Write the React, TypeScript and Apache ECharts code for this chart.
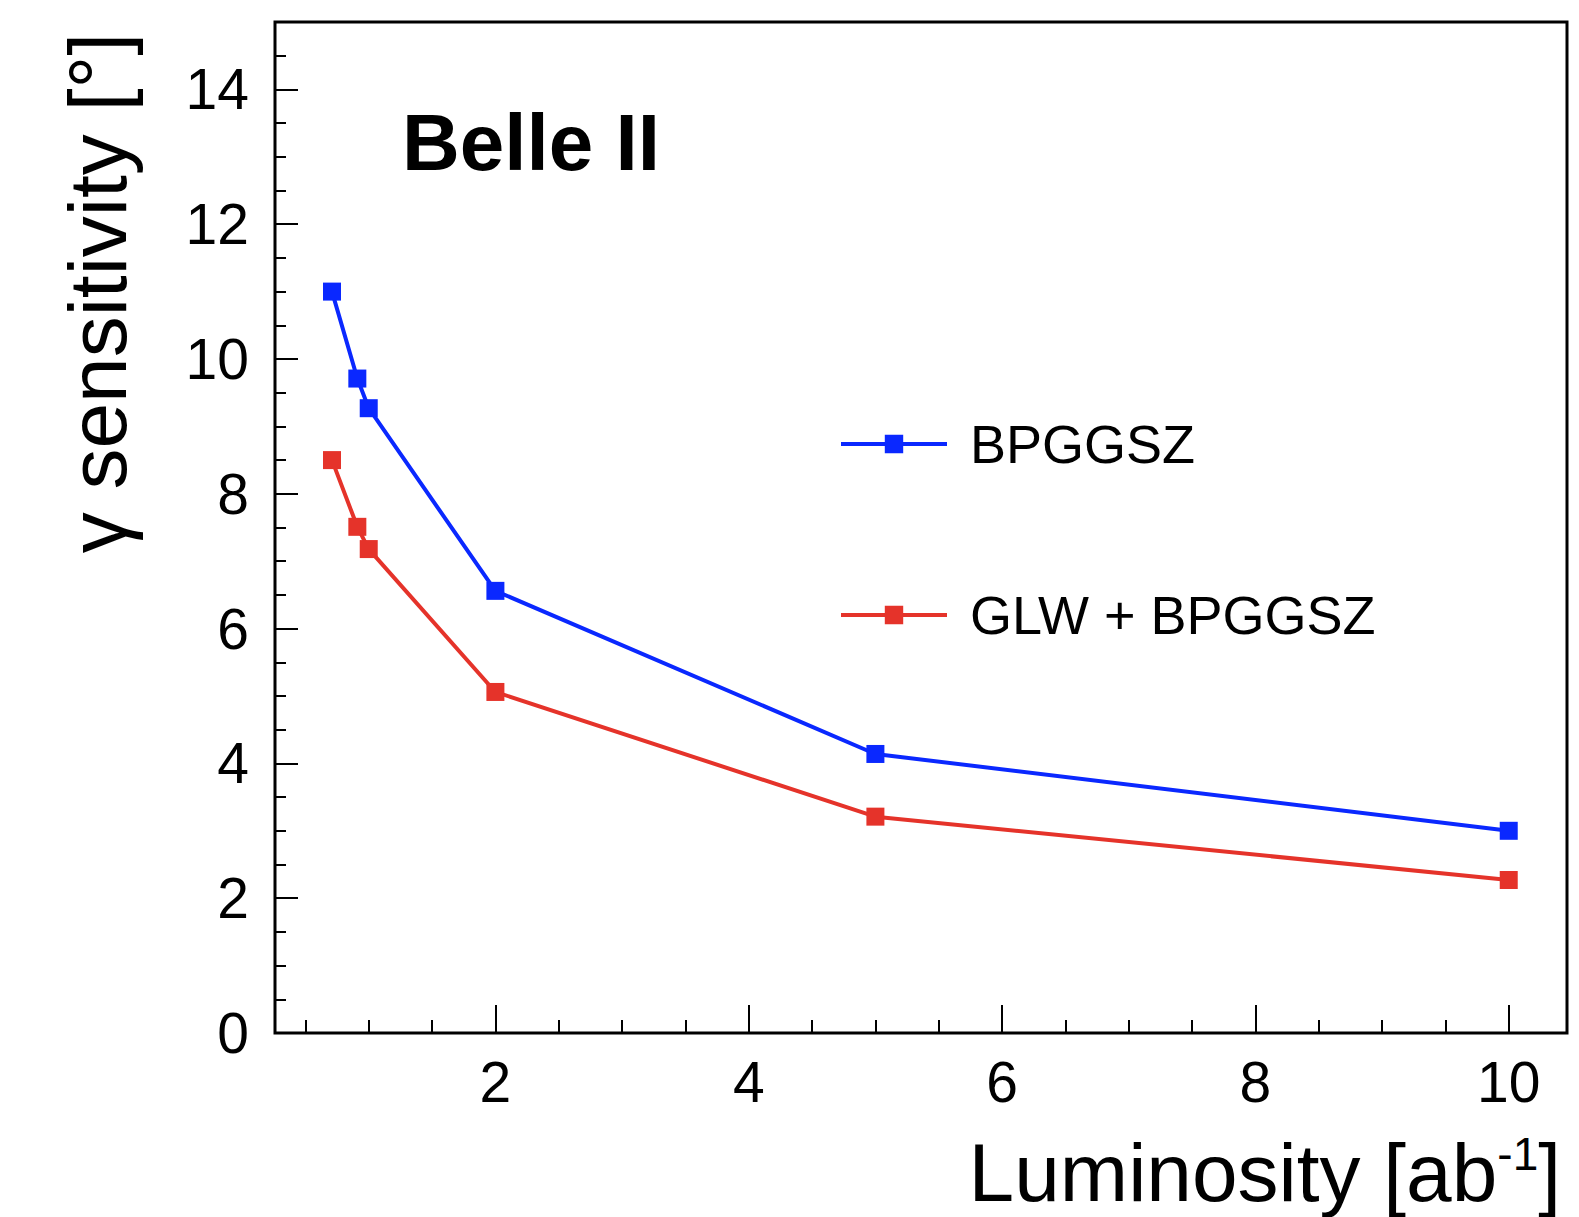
import React, { useEffect, useRef } from 'react';
import * as echarts from 'echarts';

const luminosity = [0.71, 0.91, 1.0, 2, 5, 10];
const bpggsz = [11.0, 9.71, 9.27, 6.56, 4.14, 3.0];
const glwBpggsz = [8.5, 7.51, 7.18, 5.06, 3.21, 2.27];

const xMajorTicks = [2, 4, 6, 8, 10];
const xMinorTicks = [0.5, 1, 1.5, 2.5, 3, 3.5, 4.5, 5, 5.5, 6.5, 7, 7.5, 8.5, 9, 9.5];
const yMajorTicks = [0, 2, 4, 6, 8, 10, 12, 14];
const yMinorTicks = [0.5, 1, 1.5, 2.5, 3, 3.5, 4.5, 5, 5.5, 6.5, 7, 7.5, 8.5, 9, 9.5, 10.5, 11, 11.5, 12.5, 13, 13.5, 14.5];

const seriesNames = ['BPGGSZ', 'GLW + BPGGSZ'];
const FONT = "'Liberation Sans', Arial, Helvetica, sans-serif";
const BLUE = '#0a28ff';
const RED = '#e5332a';

export default function App() {
  const ref = useRef<HTMLDivElement>(null);
  useEffect(() => {
    const chart = echarts.init(ref.current!, null, { renderer: 'svg' });
    const tickLine = { color: '#000', width: 2 };
    const xMin = 0.26, xMax = 10.46, yMin = 0, yMax = 15;
    const legendText = { fontSize: 54, fontFamily: FONT, color: '#000', padding: [0, 0, 0, 18] };
    const legendBase = { left: 839, orient: 'vertical', itemWidth: 106, itemHeight: 23, padding: 0, selectedMode: false, textStyle: legendText, lineStyle: { width: 4 } };
    chart.setOption({
      animation: false,
      backgroundColor: '#fff',
      grid: { left: 275, right: 12, top: 22, bottom: 184, show: true, borderColor: '#000', borderWidth: 3, backgroundColor: 'transparent' },
      xAxis: [
        {
          type: 'value', min: xMin, max: xMax, position: 'bottom',
          axisLine: { show: false }, splitLine: { show: false },
          axisTick: { show: true, inside: true, length: 28, customValues: xMajorTicks, lineStyle: tickLine },
          axisLabel: { customValues: xMajorTicks, fontSize: 57, fontFamily: FONT, color: '#000', margin: 20 },
        },
        {
          type: 'value', min: xMin, max: xMax, position: 'bottom',
          axisLine: { show: false }, splitLine: { show: false }, axisLabel: { show: false },
          axisTick: { show: true, inside: true, length: 13, customValues: xMinorTicks, lineStyle: tickLine },
        },
      ],
      yAxis: [
        {
          type: 'value', min: yMin, max: yMax, position: 'left',
          axisLine: { show: false }, splitLine: { show: false },
          axisTick: { show: true, inside: true, length: 23, customValues: yMajorTicks, lineStyle: tickLine },
          axisLabel: { customValues: yMajorTicks, fontSize: 57, fontFamily: FONT, color: '#000', margin: 26 },
        },
        {
          type: 'value', min: yMin, max: yMax, position: 'left',
          axisLine: { show: false }, splitLine: { show: false }, axisLabel: { show: false },
          axisTick: { show: true, inside: true, length: 11, customValues: yMinorTicks, lineStyle: tickLine },
        },
      ],
      legend: [
        { ...legendBase, data: [seriesNames[0]], top: 417 },
        { ...legendBase, data: [seriesNames[1]], top: 588 },
      ],
      series: [
        {
          name: seriesNames[0], type: 'line', xAxisIndex: 0, yAxisIndex: 0,
          data: luminosity.map((x, i) => [x, bpggsz[i]]),
          symbol: 'rect', symbolSize: 18, showAllSymbol: true,
          lineStyle: { color: BLUE, width: 4 }, itemStyle: { color: BLUE }, z: 3,
        },
        {
          name: seriesNames[1], type: 'line', xAxisIndex: 0, yAxisIndex: 0,
          data: luminosity.map((x, i) => [x, glwBpggsz[i]]),
          symbol: 'rect', symbolSize: 18, showAllSymbol: true,
          lineStyle: { color: RED, width: 4 }, itemStyle: { color: RED }, z: 3,
        },
      ],
      graphic: [
        {
          type: 'text', x: 402, y: 142,
          style: { text: 'Belle II', font: `bold 80px ${FONT}`, fill: '#000', textAlign: 'left', align: 'left', textVerticalAlign: 'middle', verticalAlign: 'middle' },
        },
        {
          type: 'text', x: 97, y: 33, rotation: Math.PI / 2,
          style: { text: 'γ sensitivity [°]', font: `82px ${FONT}`, fill: '#000', textAlign: 'right', align: 'right', textVerticalAlign: 'middle', verticalAlign: 'middle' },
        },
        {
          type: 'text', x: 1561, y: 1172,
          style: {
            text: '{a|Luminosity [ab}{s|-1}{a|]}',
            rich: {
              a: { fontSize: 82, lineHeight: 82, fontFamily: FONT, fill: '#000', color: '#000' },
              s: { fontSize: 46, lineHeight: 60, fontFamily: FONT, fill: '#000', color: '#000', verticalAlign: 'top' },
            },
            fill: '#000', textAlign: 'right', align: 'right', textVerticalAlign: 'middle', verticalAlign: 'middle',
          },
        },
      ],
    });
    return () => chart.dispose();
  }, []);
  return <div ref={ref} style={{ position: 'absolute', left: 0, top: 0, width: 1579, height: 1217, background: '#fff' }} />;
}
